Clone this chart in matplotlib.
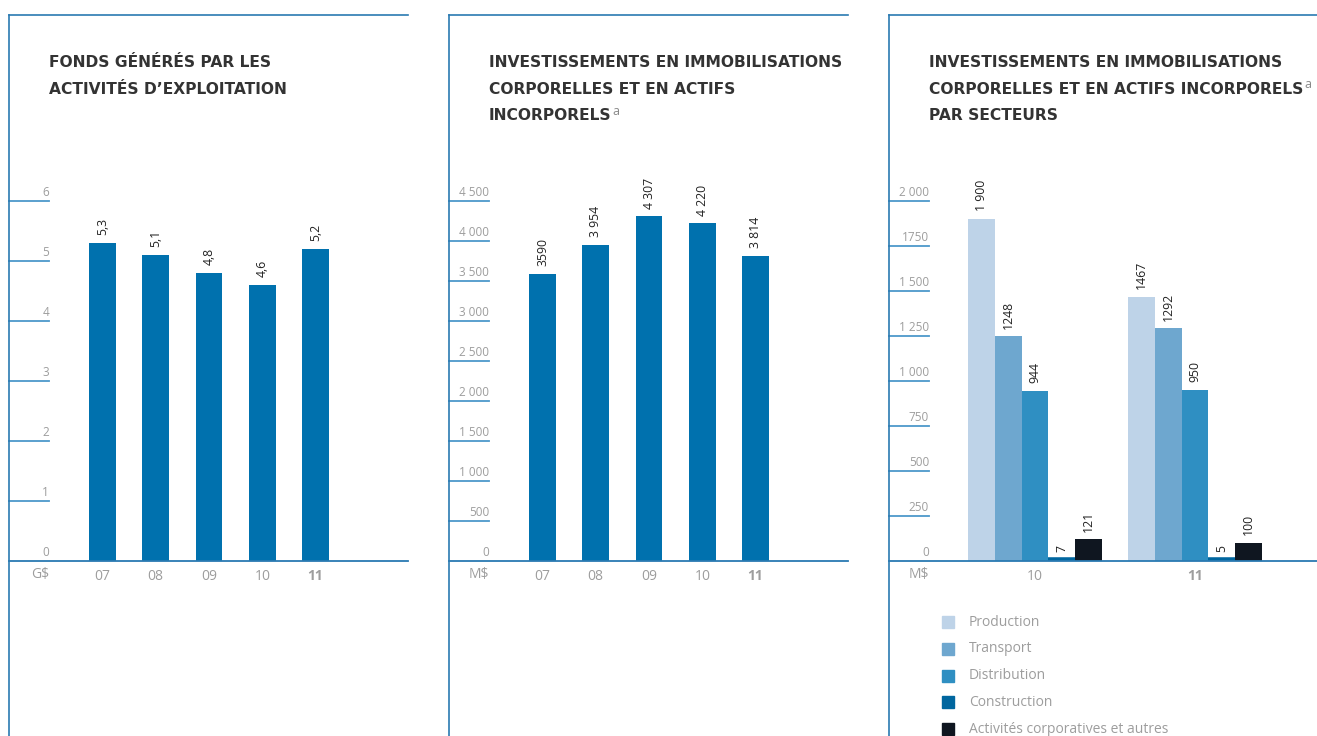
import matplotlib
matplotlib.use("Agg")
import matplotlib.pyplot as plt
from matplotlib.lines import Line2D
from matplotlib.patches import Rectangle

plt.rcParams['font.family'] = ['Open Sans', 'DejaVu Sans']

# data
years = ["07", "08", "09", "10", "11"]
fonds = [5.3, 5.1, 4.8, 4.6, 5.2]
fonds_labels = ["5,3", "5,1", "4,8", "4,6", "5,2"]
invest = [3590, 3954, 4307, 4220, 3814]
invest_labels = ["3590", "3 954", "4 307", "4 220", "3 814"]

sect_years = ["10", "11"]
secteurs = ["Production", "Transport", "Distribution", "Construction",
            "Activités corporatives et autres"]
sect_vals = {
    "Production": [1900, 1467],
    "Transport": [1248, 1292],
    "Distribution": [944, 950],
    "Construction": [7, 5],
    "Activités corporatives et autres": [121, 100],
}
sect_labels = {
    "Production": ["1 900", "1467"],
    "Transport": ["1248", "1292"],
    "Distribution": ["944", "950"],
    "Construction": ["7", "5"],
    "Activités corporatives et autres": ["121", "100"],
}
sect_colors = ["#bed3e8", "#6ea7cf", "#2f8fc2", "#00669f", "#0f1620"]

yt1 = [0, 1, 2, 3, 4, 5, 6]
yt1_labels = ["0", "1", "2", "3", "4", "5", "6"]
yt2 = [0, 500, 1000, 1500, 2000, 2500, 3000, 3500, 4000, 4500]
yt2_labels = ["0", "500", "1 000", "1 500", "2 000", "2 500", "3 000", "3 500", "4 000", "4 500"]
yt3 = [0, 250, 500, 750, 1000, 1250, 1500, 1750, 2000]
yt3_labels = ["0", "250", "500", "750", "1 000", "1 250", "1 500", "1750", "2 000"]

W, H = 1317, 736
BLUE = "#0071ae"
LINE = "#2a7ab2"
TICK = "#4d98ca"
GREY = "#9d9d9d"
DARK = "#333333"

fig = plt.figure(figsize=(W / 100, H / 100), dpi=100)


def box(x0, x1, ytop=201, ybot=561):
    return [x0 / W, 1 - ybot / H, (x1 - x0) / W, (ybot - ytop) / H]


def setup(ax, x0, x1, ticks, tlabels, ymax, unit):
    ax.set_ylim(0, ymax)
    for s in ["left", "right", "top"]:
        ax.spines[s].set_visible(False)
    ax.spines["bottom"].set_color(LINE)
    ax.spines["bottom"].set_linewidth(1.3)
    ax.set_yticks([])
    ax.tick_params(axis="x", length=0, pad=6, labelsize=10, labelcolor=GREY)
    frac = 40 / (x1 - x0)
    tr = ax.get_yaxis_transform()
    for v, lab in zip(ticks, tlabels):
        if v > 0:
            ax.plot([0, frac], [v, v], color=TICK, lw=1.3, transform=tr, clip_on=False)
        ax.annotate(lab, xy=(frac, v), xycoords=tr, xytext=(0, 3.5),
                    textcoords="offset points", ha="right", va="baseline",
                    fontsize=8.5, color=GREY)
    ax.annotate(unit, xy=(frac, 0), xycoords=tr, xytext=(0, -10),
                textcoords="offset points", ha="right", va="center",
                fontsize=10, color=GREY)


def value_labels(ax, bars, labels):
    for b, lab in zip(bars, labels):
        ax.annotate(lab, xy=(b.get_x() + b.get_width() / 2, b.get_height()),
                    xytext=(0, 5.5), textcoords="offset points", rotation=90,
                    ha="center", va="bottom", fontsize=8.8, color="#222222")


def bold_last(ax):
    ax.get_xticklabels()[-1].set_fontweight("bold")


# panel 1
ax1 = fig.add_axes(box(9, 408))
x = list(range(len(years)))
bars = ax1.bar(x, fonds, width=0.506, color=BLUE)
ax1.set_xlim(-1.754, 5.735)
ax1.set_xticks(x, years)
setup(ax1, 9, 408, yt1, yt1_labels, 6, "G$")
value_labels(ax1, bars, fonds_labels)
bold_last(ax1)

# panel 2
ax2 = fig.add_axes(box(449, 848))
bars = ax2.bar(x, invest, width=0.506, color=BLUE)
ax2.set_xlim(-1.754, 5.735)
ax2.set_xticks(x, years)
setup(ax2, 449, 848, yt2, yt2_labels, 4500, "M$")
value_labels(ax2, bars, invest_labels)
bold_last(ax2)

# panel 3
ax3 = fig.add_axes(box(889, 1317))
gx = list(range(len(sect_years)))
bw = 0.167
for i, (name, col) in enumerate(zip(secteurs, sect_colors)):
    pos = [g + (i - 2) * bw for g in gx]
    # tiny values: thick same-colour edge, tucked behind the neighbours
    if name == "Construction":
        bars = ax3.bar(pos, sect_vals[name], width=bw, color=col,
                       edgecolor=col, linewidth=4, zorder=0.5)
    else:
        bars = ax3.bar(pos, sect_vals[name], width=bw, color=col)
    value_labels(ax3, bars, sect_labels[name])
ax3.set_xlim(-0.9125, 1.7625)
ax3.set_xticks(gx, sect_years)
setup(ax3, 889, 1317, yt3, yt3_labels, 2000, "M$")
bold_last(ax3)

# legend
for i, (name, col) in enumerate(zip(secteurs, sect_colors)):
    yc = 622 + i * 26.8
    fig.add_artist(Rectangle((942 / W, 1 - (yc + 6) / H), 12 / W, 12 / H,
                             transform=fig.transFigure, color=col))
    fig.text(969 / W, 1 - yc / H, name, va="center", ha="left",
             fontsize=10, color=GREY)

# panel frames
for x0, x1 in [(9, 408), (449, 848), (889, 1317)]:
    fig.add_artist(Line2D([x0 / W, x0 / W], [1 - 15 / H, 0], color=LINE, lw=1.2))
    fig.add_artist(Line2D([x0 / W, x1 / W], [1 - 15 / H, 1 - 15 / H], color=LINE, lw=1.2))

# titles
titles = [
    (49, ["FONDS GÉNÉRÉS PAR LES", "ACTIVITÉS D’EXPLOITATION"], None),
    (489, ["INVESTISSEMENTS EN IMMOBILISATIONS", "CORPORELLES ET EN ACTIFS", "INCORPORELS"], 2),
    (929, ["INVESTISSEMENTS EN IMMOBILISATIONS", "CORPORELLES ET EN ACTIFS INCORPORELS", "PAR SECTEURS"], 1),
]
sup_targets = []
for tx, lines, sup in titles:
    for j, line in enumerate(lines):
        t = fig.text(tx / W, 1 - (67 + j * 26.5) / H, line, fontsize=11.15,
                     family="DejaVu Sans", fontweight="bold", color=DARK,
                     va="baseline", ha="left")
        if sup == j:
            sup_targets.append((t, 67 + j * 26.5))

fig.canvas.draw()
r = fig.canvas.get_renderer()
for t, yb in sup_targets:
    ext = t.get_window_extent(r)
    fig.text((ext.x1 + 1) / W, 1 - (yb - 5) / H, "a", fontsize=9,
             color="#888888", va="baseline", ha="left")

fig.savefig("out.png", dpi=100)
